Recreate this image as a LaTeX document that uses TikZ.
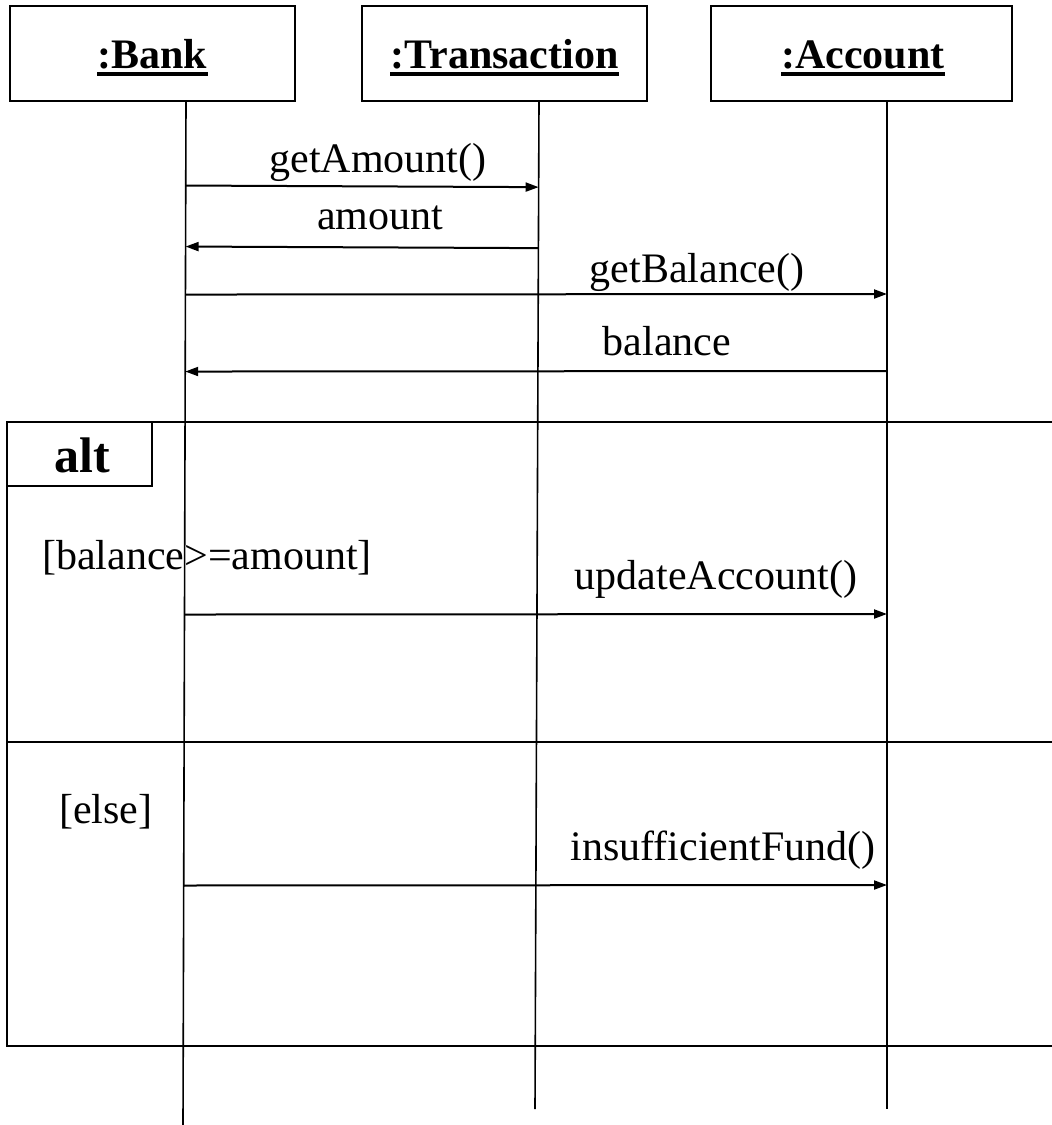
\documentclass[tikz,border=0pt]{standalone}
\usepackage{fontspec}
\setmainfont{Liberation Serif}
\usetikzlibrary{arrows.meta,calc}
\begin{document}
\begin{tikzpicture}[x=1pt,y=-1pt,
  objbox/.style={draw,line width=2.2pt,inner sep=0pt},
  objlabel/.style={font=\fontsize{42}{50}\selectfont\bfseries,inner sep=0pt,anchor=base},
  uline/.style={line width=3.4pt},
  lifeline/.style={line width=1.6pt},
  msg/.style={line width=2pt,-{Triangle[length=13pt,width=9pt]}},
  msglabel/.style={font=\fontsize{42}{50}\selectfont,inner sep=0pt,anchor=base},
  guard/.style={font=\fontsize{42}{50}\selectfont,inner sep=0pt,anchor=base west},
  frameline/.style={line width=2.4pt},
]
\useasboundingbox (0,0) rectangle (1052,1125);

% object boxes
\node[objbox,minimum width=285pt,minimum height=95pt] (bank) at (152.5,53.5) {};
\node[objbox,minimum width=285pt,minimum height=95pt] (trans) at (504.5,53.5) {};
\node[objbox,minimum width=301pt,minimum height=95pt] (acct) at (861.5,53.5) {};

\node[objlabel] (bankname) at (152.5,68) {:Bank};
\node[objlabel] (transname) at (504.5,68) {:Transaction};
\node[objlabel] (acctname) at (863,68) {:Account};
\foreach \n in {bankname,transname,acctname}
  \draw[uline] ($(\n.base west)+(0,6)$) -- ($(\n.base east)+(0,6)$);

% lifelines
\coordinate (bankTop) at (186,101);
\coordinate (bankEnd) at (183,1125);
\coordinate (transTop) at (539,101);
\coordinate (transEnd) at (535,1109);
\coordinate (acctTop) at (887,101);
\coordinate (acctEnd) at (887,1109);
\draw[lifeline] (bankTop) -- (bankEnd);
\draw[lifeline] (transTop) -- (transEnd);
\draw[lifeline] (acctTop) -- (acctEnd);

% message end points on the lifelines
\foreach \y/\nm in {185/a,246/b,294/c,371/d,614/e,885/f}{
  \coordinate (bank\nm) at ($(bankTop)!(0,\y)!(bankEnd)$);
  \coordinate (trans\nm) at ($(transTop)!(0,\y)!(transEnd)$);
  \coordinate (acct\nm) at ($(acctTop)!(0,\y)!(acctEnd)$);
}

% messages
\draw[msg] (banka) -- (transa);
\node[msglabel] (l1) at (378,172) {getAmount()};
\draw[msg] (transb) -- (bankb);
\node[msglabel] (l2) at (380,229) {amount};
\draw[msg] (bankc) -- (acctc);
\node[msglabel] (l3) at (697,282) {getBalance()};
\draw[msg] (acctd) -- (bankd);
\node[msglabel] (l4) at (667,355) {balance};

% alt combined fragment
\draw[frameline] (1052,422) -- (7,422) -- (7,1046) -- (1052,1046);
\draw[frameline] (7,742) -- (1052,742);
\draw[frameline] (7,486) -- (152,486) -- (152,422);
\node[font=\fontsize{50}{58}\selectfont\bfseries,inner sep=0pt,anchor=base] (alt) at (82,472) {alt};

\node[guard] (g1) at (42,569) {[balance>=amount]};
\draw[msg] (banke) -- (accte);
\node[msglabel] (l5) at (716,589) {updateAccount()};

\node[guard] (g2) at (59,823) {[else]};
\draw[msg] (bankf) -- (acctf);
\node[msglabel] (l6) at (723,860) {insufficientFund()};
\end{tikzpicture}
\end{document}
